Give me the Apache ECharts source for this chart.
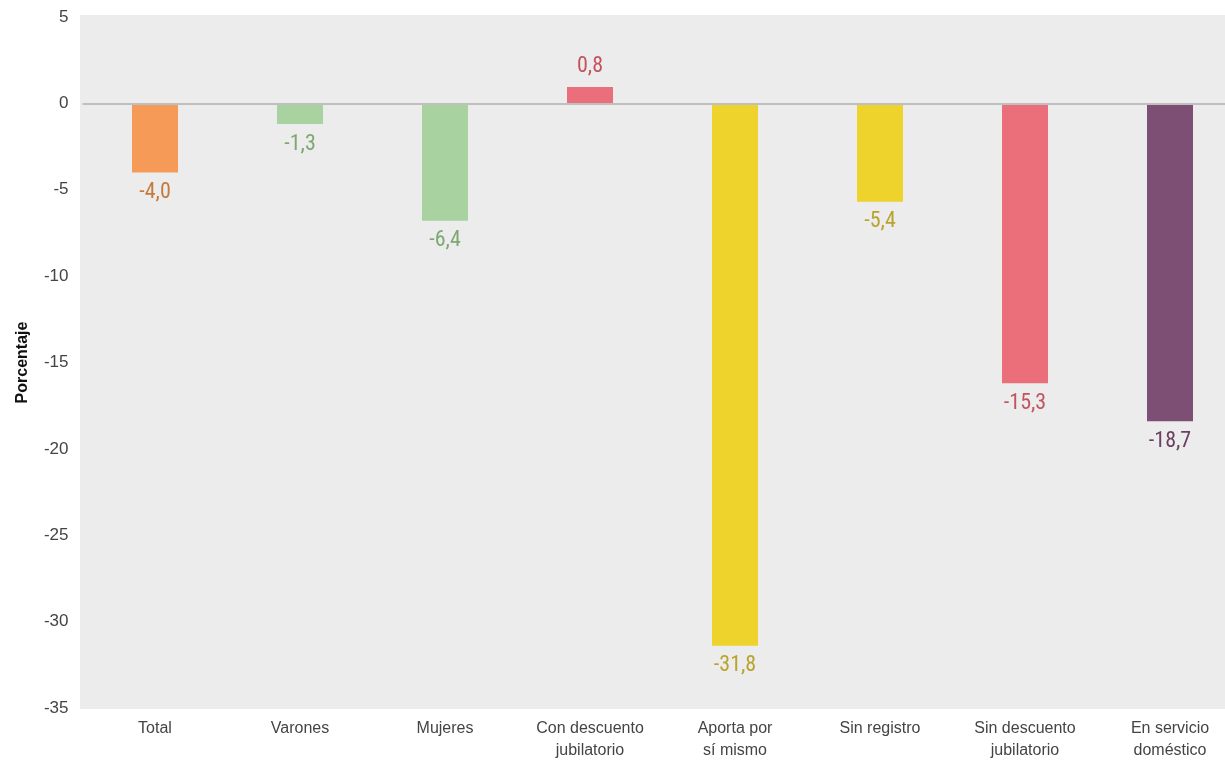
<!DOCTYPE html>
<html>
<head>
<meta charset="utf-8">
<script src="https://cdn.jsdelivr.net/npm/echarts@6/dist/echarts.min.js"></script>
<style>
html,body{margin:0;padding:0;background:#fff;overflow:hidden;width:1225px;height:778px;}
#chart{width:1250px;height:778px;}
</style>
</head>
<body>
<div id="chart"></div>
<script>
// Data
const categories = ['Total', 'Varones', 'Mujeres', 'Con descuento\njubilatorio', 'Aporta por\nsí mismo', 'Sin registro', 'Sin descuento\njubilatorio', 'En servicio\ndoméstico'];
const values = [-4.0, -1.2, -6.8, 0.95, -31.4, -5.7, -16.2, -18.4];
const valueLabels = ['-4,0', '-1,3', '-6,4', '0,8', '-31,8', '-5,4', '-15,3', '-18,7'];
const yTicks = [5, 0, -5, -10, -15, -20, -25, -30, -35];

// Styles
const barColors = ['#F59B57', '#A8D2A0', '#A8D2A0', '#EB6F7B', '#EDD32B', '#EDD32B', '#EB6F7B', '#7E4F75'];
const labelColors = ['#C47A3C', '#7EA872', '#7EA872', '#C2535F', '#B8A32C', '#B8A32C', '#C2535F', '#6B3F62'];

const chart = echarts.init(document.getElementById('chart'));

chart.setOption({
  animation: false,
  graphic: [{
    type: 'rect', z: -10, silent: true,
    shape: { x: 80, y: 15, width: 1145, height: 694 },
    style: { fill: '#ECECEC' }
  }],
  grid: { left: 82.5, top: 17, bottom: 70, right: 7.5, containLabel: false },
  xAxis: {
    type: 'category',
    data: categories,
    axisLine: { show: false },
    axisTick: { show: false },
    axisLabel: {
      color: '#444', fontSize: 16, lineHeight: 22, margin: 10,
      fontFamily: 'Liberation Sans, Arial, sans-serif', interval: 0
    }
  },
  yAxis: {
    type: 'value',
    min: yTicks[yTicks.length - 1], max: yTicks[0], interval: 5,
    name: 'Porcentaje',
    nameLocation: 'middle',
    nameRotate: 90,
    nameGap: 52,
    nameTextStyle: { fontWeight: 'bold', fontSize: 16, color: '#111', fontFamily: 'Liberation Sans, Arial, sans-serif' },
    splitLine: { show: false },
    axisLine: { show: false },
    axisTick: { show: false },
    axisLabel: {
      color: '#444', fontSize: 17, margin: 14,
      fontFamily: 'Liberation Sans, Arial, sans-serif'
    }
  },
  series: [{
    type: 'bar',
    barWidth: 46,
    data: values.map((v, i) => ({
      value: v,
      itemStyle: { color: barColors[i] },
      label: {
        show: true,
        position: v < 0 ? 'bottom' : 'top',
        distance: 9,
        formatter: valueLabels[i],
        color: labelColors[i],
        fontSize: 22,
        fontFamily: "'Liberation Sans Narrow', 'Arial Narrow', 'Roboto Condensed', sans-serif"
      }
    })),
    markLine: {
      silent: true,
      symbol: 'none',
      label: { show: false },
      lineStyle: { color: '#BFBFBF', width: 2, type: 'solid' },
      data: [{ yAxis: 0 }]
    }
  }]
});
</script>
</body>
</html>
